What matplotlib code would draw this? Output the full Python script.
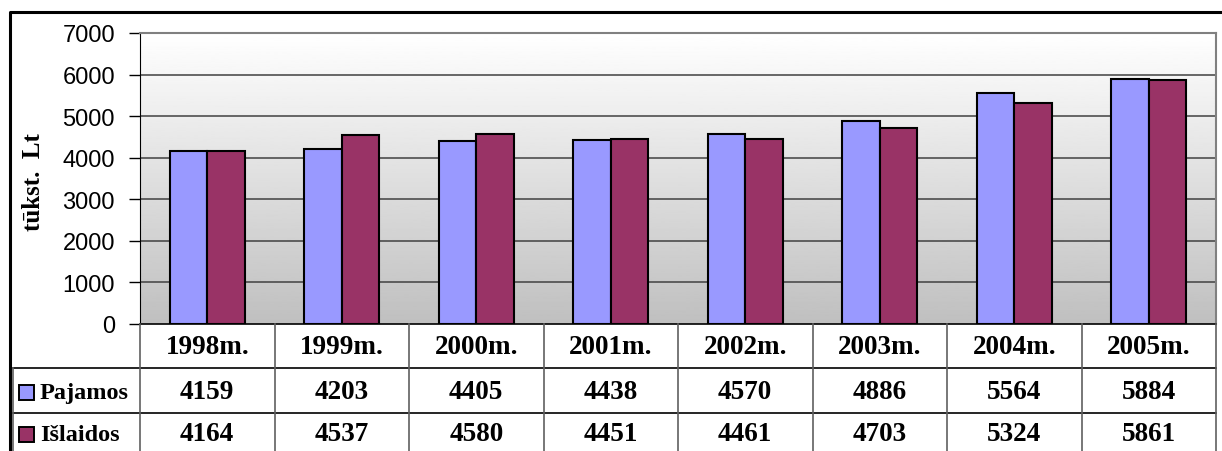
import matplotlib.pyplot as plt
import numpy as np

# Data
years = ["1998m.", "1999m.", "2000m.", "2001m.", "2002m.", "2003m.", "2004m.", "2005m."]
pajamos = [4159, 4203, 4405, 4438, 4570, 4886, 5564, 5884]
islaidos = [4164, 4537, 4580, 4451, 4461, 4703, 5324, 5861]
series_names = ["Pajamos", "Išlaidos"]
colors = ["#9999FF", "#993366"]

W, H = 1222, 452
fig = plt.figure(figsize=(W / 100, H / 100), dpi=100)
fig.patch.set_facecolor("white")

# plot area in pixels
px0, px1 = 140, 1216
py_top, py_bot = 34, 325

ax = fig.add_axes([px0 / W, 1 - py_bot / H, (px1 - px0) / W, (py_bot - py_top) / H])
n = len(years)

# gradient background (white at top, gray at bottom)
grad = np.linspace(1.0, 0.75, 256).reshape(-1, 1)
ax.imshow(grad, cmap="gray", vmin=0, vmax=1, extent=[0, n, 0, 7000],
          origin="upper", aspect="auto", zorder=0)
ax.set_xlim(0, n)
ax.set_ylim(0, 7000)

for yv in range(1000, 7001, 1000):
    ax.axhline(yv, color="#404040", lw=1.1, zorder=1)

x = np.arange(n) + 0.5
w = 0.28
ax.bar(x - w / 2, pajamos, w, color=colors[0], edgecolor="black", lw=1.5, zorder=2)
ax.bar(x + w / 2, islaidos, w, color=colors[1], edgecolor="black", lw=1.5, zorder=2)

ax.set_xticks([])
ax.set_yticks(range(0, 7001, 1000))
ax.tick_params(axis="y", direction="out", length=8, width=1, pad=10, labelsize=17)
for lab in ax.get_yticklabels():
    lab.set_fontfamily("Liberation Sans")
for s in ["top", "right"]:
    ax.spines[s].set_color("#808080")
    ax.spines[s].set_linewidth(1.5)
ax.spines["left"].set_color("black")
ax.spines["bottom"].set_visible(False)

fig.text(34 / W, 1 - 182 / H, "tūkst.  Lt", rotation=90, ha="center", va="center",
         fontsize=18, fontweight="bold", family="Liberation Serif")

# table drawn in pixel coordinates
tab = fig.add_axes([0, 0, 1, 1], zorder=3)
tab.set_xlim(0, W)
tab.set_ylim(H, 0)
tab.axis("off")
tab.patch.set_alpha(0)

col_w = (px1 - px0) / n
rows_y = [325, 369, 414, 459]
left_x = 13

# horizontal lines
tab.plot([px0, px1], [rows_y[0], rows_y[0]], color="black", lw=1.2)
for yy in rows_y[1:3]:
    tab.plot([left_x, px1], [yy, yy], color="black", lw=1.2)
# vertical lines
for k in range(n + 1):
    xx = px0 + k * col_w
    tab.plot([xx, xx], [rows_y[0], H], color="#606060", lw=1.2)
tab.plot([left_x, left_x], [rows_y[1], H], color="#606060", lw=1.2)

tfont = dict(fontsize=19.5, fontweight="bold", family="Liberation Serif",
             ha="center", va="center")
for k, yr in enumerate(years):
    cx = px0 + (k + 0.5) * col_w
    tab.text(cx, (rows_y[0] + rows_y[1]) / 2 + 1, yr, **tfont)
    tab.text(cx, (rows_y[1] + rows_y[2]) / 2 + 1, str(pajamos[k]), **tfont)
    tab.text(cx, (rows_y[2] + rows_y[3]) / 2 - 2, str(islaidos[k]), **tfont)

for r, (name, c) in enumerate(zip(series_names, colors)):
    cy = (rows_y[r + 1] + rows_y[r + 2]) / 2 + (1 if r == 0 else -2)
    tab.add_patch(plt.Rectangle((19, cy - 7), 15, 15, facecolor=c, edgecolor="black", lw=1.4))
    tab.text(40, cy + 1, name, fontsize=17.5, fontweight="bold", family="Liberation Serif",
             ha="left", va="center")

# outer frame
tab.plot([9.5, 9.5, W + 5], [H + 5, 12.5, 12.5], color="black", lw=2.2)

fig.savefig("out.png", dpi=100)
